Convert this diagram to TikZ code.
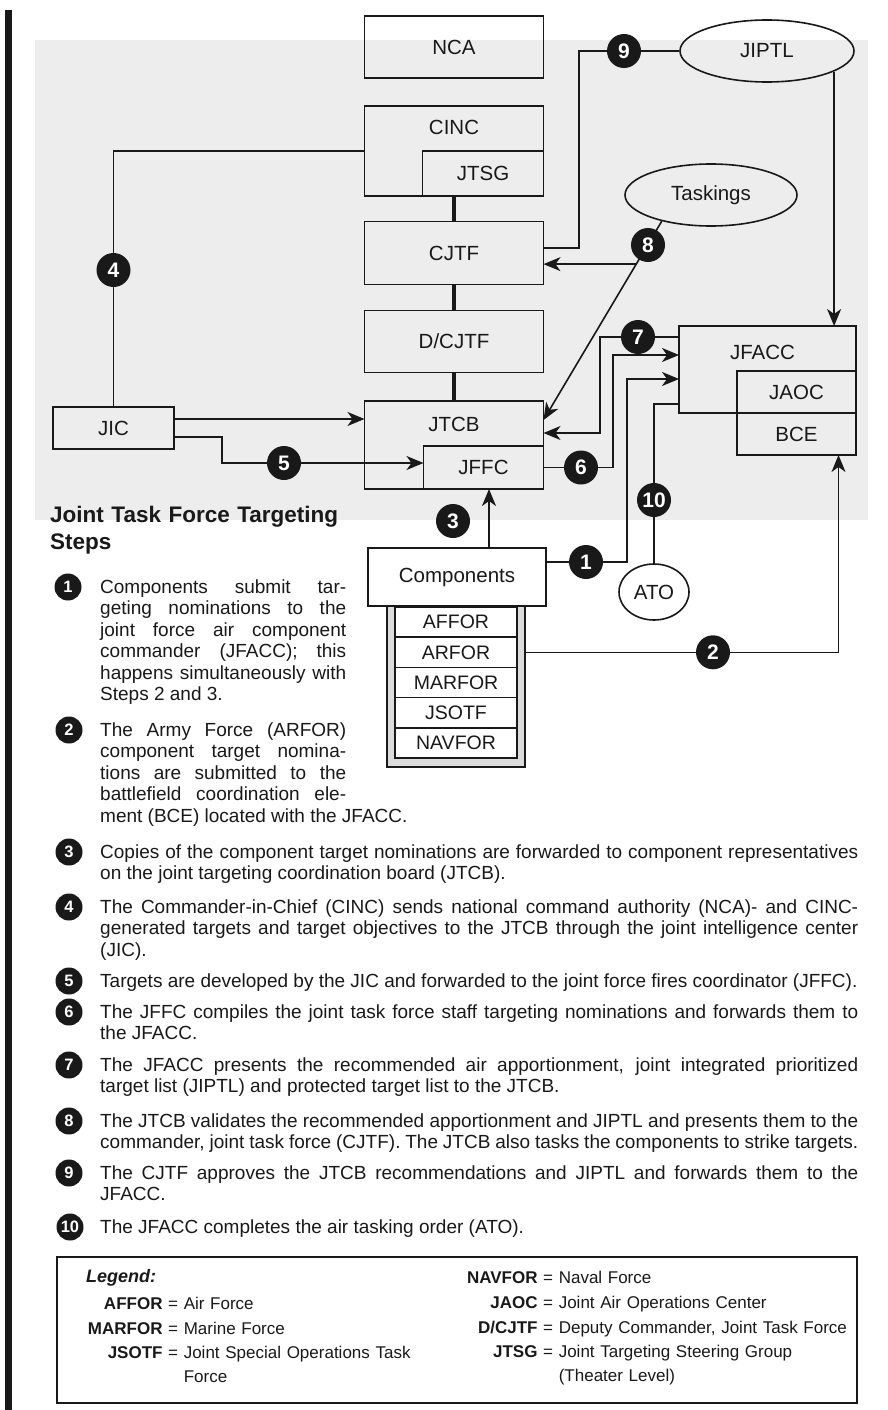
\documentclass[tikz,border=0pt]{standalone}
\usepackage{fontspec}
\setmainfont{Liberation Sans}
\usetikzlibrary{arrows.meta,positioning,shapes.geometric}
\definecolor{ink}{gray}{0.1}
\definecolor{scan}{gray}{0.93}
\definecolor{stipple}{gray}{0.86}

\begin{document}
\begin{tikzpicture}[x=1pt,y=-1pt,>={Stealth[length=17pt,width=14pt,inset=5pt]},
                    box node/.style={draw=ink,line width=1.6pt,inner sep=0pt,outer sep=0pt,text=ink,font=\fontsize{20.5}{24}\selectfont},
                    oval node/.style={ellipse,draw=ink,line width=1.6pt,inner sep=0pt,text=ink,font=\fontsize{20.5}{24}\selectfont},
                    lbl/.style={inner sep=0pt,text=ink,font=\fontsize{20.5}{24}\selectfont},
                    force node/.style={box node,fill=white,minimum width=122pt,minimum height=30.2pt,font=\fontsize{19.5}{22}\selectfont},
                    num node/.style={circle,fill=ink,text=white,minimum size=34pt,inner sep=0pt,font=\bfseries\fontsize{21}{21}\selectfont},
                    step num/.style={num node,minimum size=27pt,font=\bfseries\fontsize{16.5}{16.5}\selectfont},
                    step text/.style={anchor=base west,inner sep=0pt,align=justify,text=ink,execute at begin node=\sloppy,font=\fontsize{19}{21.5}\selectfont},
                    key text/.style={anchor=base west,inner sep=0pt,align=left,text width=330pt,text=ink,font=\fontsize{17}{24.5}\selectfont},
                    link/.style={draw=ink,line width=1.6pt},
                    bus/.style={draw=ink,line width=3.4pt}]
  \fill[white] (0,0) rectangle (887,1410);
  \fill[scan] (35,40) rectangle (868,520);
  \fill[ink] (5,10) rectangle (12,1410);
  \useasboundingbox (0,0) rectangle (887,1410);

  \node[box node,minimum width=179pt,minimum height=62pt] (nca) at (454,47) {NCA};
  \node[box node,minimum width=179pt,minimum height=90pt] (cinc) at (454,151) {};
  \node[lbl,below=14pt of cinc.north] (cinclbl) {CINC};
  \node[box node,minimum width=121pt,minimum height=45pt,anchor=south east] (jtsg) at (cinc.south east) {JTSG};
  \node[box node,minimum width=179pt,minimum height=63pt] (cjtf) at (454,253) {CJTF};
  \node[box node,minimum width=179pt,minimum height=62pt] (dcjtf) at (454,341.5) {D/CJTF};
  \node[box node,minimum width=179pt,minimum height=88pt] (jtcb) at (454,445) {};
  \node[lbl,below=16pt of jtcb.north] (jtcblbl) {JTCB};
  \node[box node,minimum width=120pt,minimum height=43pt,anchor=south east] (jffc) at (jtcb.south east) {JFFC};
  \node[box node,minimum width=121pt,minimum height=42pt] (jic) at (113.5,428) {JIC};
  \node[box node,minimum width=177pt,minimum height=87pt] (jfacc) at (767.5,369.5) {};
  \node[lbl,below=19pt of jfacc.north,xshift=-5pt] (jfacclbl) {JFACC};
  \node[box node,minimum width=119pt,minimum height=42pt,anchor=south east] (jaoc) at (jfacc.south east) {JAOC};
  \node[box node,minimum width=119pt,minimum height=42pt,below=0pt of jaoc] (bce) {BCE};
  \node[oval node,minimum width=174pt,minimum height=62pt] (jiptl) at (767,51) {JIPTL};
  \node[oval node,minimum width=172pt,minimum height=62pt] (tasks) at (711,195) {Taskings};
  \node[oval node,minimum width=70pt,minimum height=56pt] (ato) at (654,592) {ATO};
  \node[box node,minimum width=178pt,minimum height=58pt] (comp) at (457,577) {Components};
  \node[box node,fill=stipple,minimum width=138pt,minimum height=161pt,anchor=north] (stack) at (comp.south -| 456,0) {};
  \node[force node,anchor=north] (affor) at ([yshift=-1pt]stack.north) {AFFOR};
  \node[force node,below=0pt of affor] (arfor) {ARFOR};
  \node[force node,below=0pt of arfor] (marfor) {MARFOR};
  \node[force node,below=0pt of marfor] (jsotf) {JSOTF};
  \node[force node,below=0pt of jsotf] (navfor) {NAVFOR};

  \path (cinc) edge[bus] (cjtf)
        (cjtf) edge[bus] (dcjtf)
        (dcjtf) edge[bus] (jtcb);
  \draw[link] (jic.north) |- (cinc.west);
  \draw[link,->] (jic.east |- 0,419) -- (jtcb.west |- 0,419);
  \draw[link,->] (jic.east |- 0,437) -| (222,463) -- (jffc.west |- 0,463);
  \draw[link,->] (jffc.east) -| (613,355) -- (jfacc.west |- 0,355);
  \draw[link,->] (jfacc.west |- 0,337) -| (600,433) -- (jtcb.east |- 0,433);
  \draw[link,->] (comp.east |- 0,562) -| (627,379) -- (jfacc.west |- 0,379);
  \draw[link] (ato.north) |- (jfacc.west |- 0,404);
  \draw[link,->] (stack.east |- arfor) -| ([xshift=42pt]bce.south);
  \draw[link,->] (comp.north -| 489,0) -- (jffc.south -| 489,0);
  \draw[link,->] (tasks.208) -- (jtcb.east |- 0,420) coordinate[pos=0.216] (fork8);
  \draw[link,->] (fork8) -- (fork8 -| cjtf.east);
  \draw[link] (cjtf.east |- 0,248) -| (579,51) -- (jiptl.west);
  \draw[link,->] (jiptl.343) -- (jiptl.343 |- jfacc.north);

  \node[num node] (n9) at (624,51) {9};
  \node[num node] (n8) at (648,245) {8};
  \node[num node] (n4) at (113.5,270) {4};
  \node[num node] (n7) at (638,337) {7};
  \node[num node] (n5) at (284,463) {5};
  \node[num node] (n6) at (581,467.5) {6};
  \node[num node] (n10) at (654,500) {10};
  \node[num node] (n3) at (453,521) {3};
  \node[num node] (n1) at (586,562) {1};
  \node[num node] (n2) at (arfor -| 713,0) {2};

  \node[step text,text width=340pt,align=left,font=\bfseries\fontsize{22.5}{27}\selectfont] (title) at (50,522) {Joint Task Force Targeting\\Steps};
  \node[step num] (s1) at (68,587) {1};
  \node[step text,text width=246pt] (t1) at (100,593) {Components submit tar-\linebreak geting nominations to the\linebreak joint force air component\linebreak commander (JFACC); this\linebreak happens simultaneously with\linebreak Steps 2 and 3.};
  \node[step num] (s2) at (69,730) {2};
  \node[step text,text width=246pt] (t2) at (100,736) {The Army Force (ARFOR)\linebreak component target nomina-\linebreak tions are submitted to the\linebreak battlefield coordination ele-\linebreak \makebox[\linewidth][l]{ment (BCE) located with the JFACC.}};
  \node[step num] (s3) at (69,852) {3};
  \node[step text,text width=758pt] (t3) at (100,858) {Copies of the component target nominations are forwarded to component representatives\linebreak on the joint targeting coordination board (JTCB).};
  \node[step num] (s4) at (69,907) {4};
  \node[step text,text width=758pt] (t4) at (100,913) {The Commander-in-Chief (CINC) sends national command authority (NCA)- and CINC-\linebreak generated targets and target objectives to the JTCB through the joint intelligence center\linebreak (JIC).};
  \node[step num] (s5) at (69,981) {5};
  \node[step text,text width=758pt] (t5) at (100,987) {\parfillskip=0pt Targets are developed by the JIC and forwarded to the joint force fires coordinator (JFFC).};
  \node[step num] (s6) at (69,1012) {6};
  \node[step text,text width=758pt] (t6) at (100,1018) {The JFFC compiles the joint task force staff targeting nominations and forwards them to\linebreak the JFACC.};
  \node[step num] (s7) at (69,1065) {7};
  \node[step text,text width=758pt] (t7) at (100,1071) {The JFACC presents the recommended air apportionment, joint integrated prioritized\linebreak target list (JIPTL) and protected target list to the JTCB.};
  \node[step num] (s8) at (69,1121) {8};
  \node[step text,text width=758pt] (t8) at (100,1127) {\parfillskip=0pt The JTCB validates the recommended apportionment and JIPTL and presents them to the\linebreak commander, joint task force (CJTF). The JTCB also tasks the components to strike targets.};
  \node[step num] (s9) at (69,1173) {9};
  \node[step text,text width=758pt] (t9) at (100,1179) {The CJTF approves the JTCB recommendations and JIPTL and forwards them to the\linebreak JFACC.};
  \node[step num] (s10) at (70,1227) {10};
  \node[step text,text width=758pt] (t10) at (100,1233) {The JFACC completes the air tasking order (ATO).};

  \node[draw=ink,line width=1.2pt,minimum width=800pt,minimum height=146pt,inner sep=0pt] (legend) at (457,1330) {};
  \node[key text,font=\bfseries\itshape\fontsize{18}{20}\selectfont] (keyhead) at (86,1282) {Legend:};
  \node[key text] (k1) at (168,1309) {\llap{\textbf{AFFOR} }= Air Force};
  \node[key text] (k2) at (168,1334) {\llap{\textbf{MARFOR} }= Marine Force};
  \node[key text] (k3) at (168,1358) {\llap{\textbf{JSOTF} }= Joint Special Operations Task\\\phantom{= }Force};
  \node[key text] (k4) at (543,1283) {\llap{\textbf{NAVFOR} }= Naval Force};
  \node[key text] (k5) at (543,1308) {\llap{\textbf{JAOC} }= Joint Air Operations Center};
  \node[key text] (k6) at (543,1333) {\llap{\textbf{D/CJTF} }= Deputy Commander, Joint Task Force};
  \node[key text] (k7) at (543,1357) {\llap{\textbf{JTSG} }= Joint Targeting Steering Group\\\phantom{= }(Theater Level)};
\end{tikzpicture}
\end{document}
